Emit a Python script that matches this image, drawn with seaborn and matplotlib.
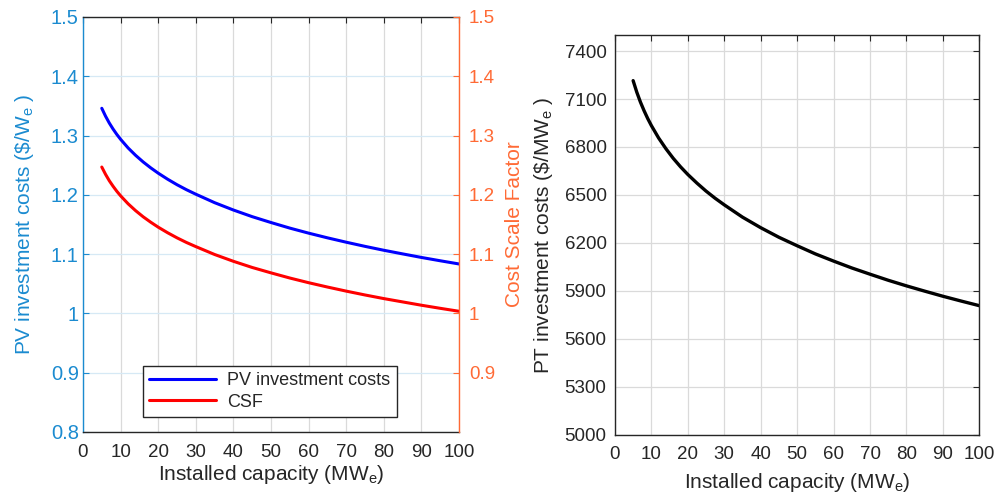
import matplotlib
matplotlib.use("Agg")
import matplotlib.pyplot as plt
import seaborn as sns
import pandas as pd
from matplotlib.lines import Line2D

# Installed capacity (MWe)
capacity = [5, 6, 7, 8, 9, 10, 12, 14, 16, 18, 20, 22.5, 25, 27.5, 30, 35, 40, 45,
            50, 55, 60, 65, 70, 75, 80, 85, 90, 95, 100]
# PV investment costs ($/We)
pv_cost = [1.3460, 1.3327, 1.3211, 1.3110, 1.3019, 1.2937, 1.2791, 1.2666, 1.2555, 1.2456,
           1.2366, 1.2264, 1.2171, 1.2087, 1.2011, 1.1868, 1.1744, 1.1632, 1.1533, 1.1439,
           1.1354, 1.1275, 1.1201, 1.1131, 1.1065, 1.1004, 1.0944, 1.0888, 1.0834]
# Cost scale factor
csf = [1.2469, 1.2346, 1.2238, 1.2145, 1.2060, 1.1984, 1.1849, 1.1733, 1.1630, 1.1539,
       1.1455, 1.1361, 1.1275, 1.1197, 1.1127, 1.0994, 1.0879, 1.0775, 1.0684, 1.0597,
       1.0518, 1.0445, 1.0376, 1.0311, 1.0250, 1.0194, 1.0138, 1.0086, 1.0036]
# PT investment costs ($/MWe)
pt_cost = [7215, 7143, 7081, 7027, 6978, 6934, 6856, 6789, 6729, 6676,
           6628, 6574, 6524, 6479, 6438, 6361, 6295, 6235, 6182, 6131,
           6086, 6043, 6004, 5966, 5931, 5898, 5866, 5836, 5807]

x_ticks = list(range(0, 101, 10))
pv_ticks = [0.8, 0.9, 1.0, 1.1, 1.2, 1.3, 1.4, 1.5]
csf_ticks = [0.9, 1.0, 1.1, 1.2, 1.3, 1.4, 1.5]
pt_ticks = list(range(5000, 7401, 300))

df = pd.DataFrame({"capacity": capacity, "pv": pv_cost, "csf": csf, "pt": pt_cost})

sns.set_style("white")
plt.rcParams["font.family"] = ["Liberation Sans", "DejaVu Sans"]
plt.rcParams["mathtext.fontset"] = "custom"
plt.rcParams["mathtext.rm"] = "Liberation Sans"
plt.rcParams["mathtext.it"] = "Liberation Sans:italic"

BLUE_AX = "#1B8BD0"
ORANGE_AX = "#FF6A35"
DARK = "#262626"
TICK_FS = 13.5
LABEL_FS = 15
LEG_FS = 13

fig = plt.figure(figsize=(9.95, 4.97), dpi=100)
ax = fig.add_axes([0.0834, 0.1308, 0.378, 0.835])
ax2 = ax.twinx()
axr = fig.add_axes([0.618, 0.1254, 0.3663, 0.804])

# ---- left panel: PV costs and cost scale factor ----
sns.lineplot(data=df, x="capacity", y="pv", ax=ax, color="#0000FF", linewidth=2.2, legend=False)
sns.lineplot(data=df, x="capacity", y="csf", ax=ax2, color="#FF0000", linewidth=2.2, legend=False)

ax.set_xlim(0, 100)
ax.set_ylim(0.8, 1.5)
ax2.set_ylim(0.8, 1.5)
ax.set_xticks(x_ticks)
ax.set_xticklabels([str(v) for v in x_ticks])
ax.set_yticks(pv_ticks)
ax.set_yticklabels([f"{v:g}" for v in pv_ticks])
ax2.set_yticks(csf_ticks)
ax2.set_yticklabels([f"{v:g}" for v in csf_ticks])

ax.xaxis.grid(True, color="#DADADA", linewidth=0.9)
ax.yaxis.grid(True, color="#D6E9F5", linewidth=0.9)
ax.set_axisbelow(True)
ax2.grid(False)

ax.tick_params(axis="x", direction="in", length=4, top=True, colors=DARK, labelsize=TICK_FS, pad=9)
ax.tick_params(axis="y", direction="in", length=4, colors=BLUE_AX, labelsize=14.5, pad=3)
ax2.tick_params(axis="y", direction="in", length=4, colors=ORANGE_AX, labelsize=TICK_FS, pad=7)

for s in ("top", "bottom"):
    ax.spines[s].set_color(DARK)
    ax2.spines[s].set_visible(False)
ax.spines["left"].set_color(BLUE_AX)
ax2.spines["left"].set_visible(False)
ax2.spines["right"].set_color(ORANGE_AX)
ax.spines["right"].set_visible(False)
for sp in list(ax.spines.values()) + list(ax2.spines.values()):
    sp.set_linewidth(1.0)

ax.set_xlabel("Installed capacity (MW$_\\mathregular{e}$)", fontsize=LABEL_FS, color=DARK, labelpad=1)
ax.set_ylabel("PV investment costs (\\$/W$_\\mathregular{e}$ )", fontsize=LABEL_FS, color=BLUE_AX, labelpad=11)
ax2.set_ylabel("Cost Scale Factor", fontsize=LABEL_FS, color=ORANGE_AX, labelpad=7)

handles = [Line2D([], [], color="#0000FF", linewidth=2.2),
           Line2D([], [], color="#FF0000", linewidth=2.2)]
leg = ax2.legend(handles, ["PV investment costs", "CSF"], loc="lower left",
                 bbox_to_anchor=(0.16, 0.036), fontsize=LEG_FS, handlelength=3.7,
                 frameon=True, fancybox=False, edgecolor=DARK, framealpha=1,
                 borderpad=0.35, labelspacing=0.25, handletextpad=0.6, borderaxespad=0)
leg.get_frame().set_linewidth(1.0)

# ---- right panel: PT costs ----
sns.lineplot(data=df, x="capacity", y="pt", ax=axr, color="black", linewidth=2.4, legend=False)
axr.set_xlim(0, 100)
axr.set_ylim(5000, 7500)
axr.set_xticks(x_ticks)
axr.set_xticklabels([str(v) for v in x_ticks])
axr.set_yticks(pt_ticks)
axr.set_yticklabels([str(v) for v in pt_ticks])
axr.grid(True, color="#DADADA", linewidth=0.9)
axr.set_axisbelow(True)
axr.tick_params(direction="in", length=4, top=True, right=True, colors=DARK, labelsize=TICK_FS)
axr.tick_params(axis="x", pad=8)
axr.tick_params(axis="y", pad=6)
for sp in axr.spines.values():
    sp.set_color(DARK)
    sp.set_linewidth(1.0)
axr.set_xlabel("Installed capacity (MW$_\\mathregular{e}$)", fontsize=LABEL_FS, color=DARK, labelpad=6)
axr.set_ylabel("PT investment costs (\\$/MW$_\\mathregular{e}$ )", fontsize=LABEL_FS, color=DARK, labelpad=7)

fig.savefig("out.png", dpi=100)
